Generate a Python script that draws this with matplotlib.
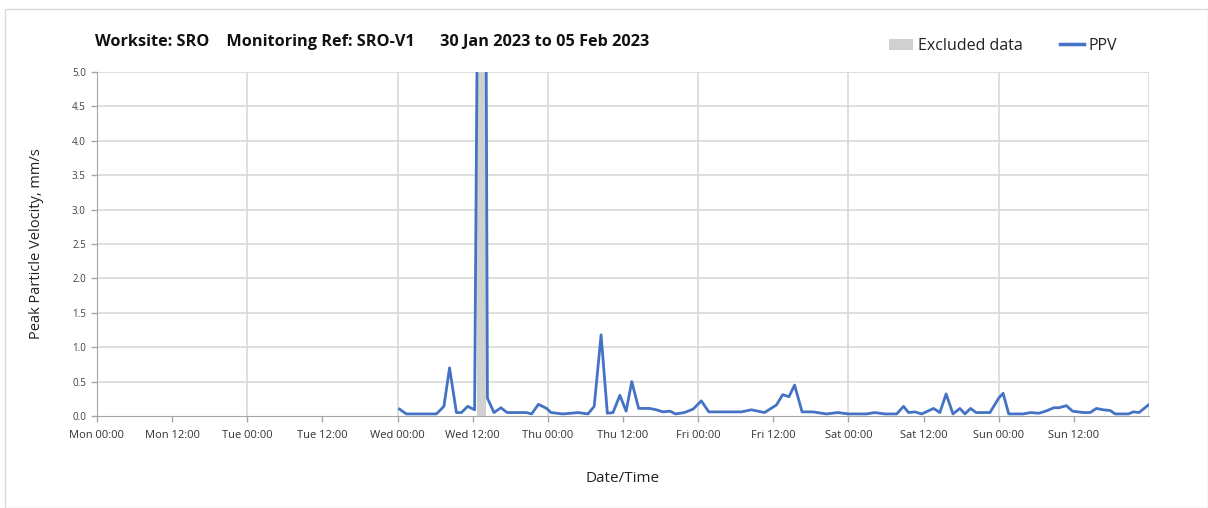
import matplotlib
matplotlib.use("Agg")
import matplotlib.pyplot as plt
from matplotlib.patches import Patch, Rectangle
from matplotlib.lines import Line2D

# hours since Wed 00:00 and PPV values (mm/s)
hours = [0.3, 1.4, 6.2, 7.4, 8.3, 9.4, 10.2, 11.2, 12.3, 12.7, 14.15, 14.35, 15.4, 16.5, 17.5,
         20.6, 21.4, 22.5, 23.8, 24.5, 26.4, 27.7, 28.8, 30.4, 31.4, 32.5, 33.5, 34.4, 35.5,
         36.5, 37.4, 38.5, 40.3, 41.3, 42.4, 43.5, 44.4, 45.8, 47.2, 48.5, 49.7, 54.9, 56.5,
         58.6, 60.5, 61.5, 62.5, 63.4, 64.6, 66.3, 68.5, 70.3, 72.0, 74.9, 76.2, 77.8, 79.7,
         80.8, 81.6, 82.6, 83.7, 85.6, 86.6, 87.6, 88.7, 89.8, 90.6, 91.5, 92.4, 94.6, 96.0,
         96.7, 97.6, 99.9, 101.1, 102.4, 103.5, 104.8, 105.6, 106.8, 107.8, 109.5, 110.6,
         111.6, 112.7, 113.8, 114.6, 116.7, 117.5, 118.4, 119.9]
ppv = [0.10, 0.03, 0.03, 0.14, 0.70, 0.05, 0.05, 0.14, 0.09, 5.3, 5.3, 0.26, 0.05, 0.12, 0.05,
       0.05, 0.03, 0.17, 0.11, 0.05, 0.03, 0.04, 0.05, 0.03, 0.14, 1.18, 0.04, 0.05, 0.30,
       0.07, 0.50, 0.11, 0.11, 0.09, 0.06, 0.07, 0.03, 0.05, 0.10, 0.22, 0.06, 0.06, 0.09,
       0.05, 0.16, 0.31, 0.28, 0.45, 0.06, 0.06, 0.03, 0.05, 0.03, 0.03, 0.05, 0.03, 0.03,
       0.14, 0.05, 0.06, 0.03, 0.11, 0.05, 0.32, 0.03, 0.11, 0.03, 0.11, 0.05, 0.05, 0.26,
       0.33, 0.03, 0.03, 0.05, 0.04, 0.07, 0.12, 0.12, 0.15, 0.07, 0.05, 0.05,
       0.11, 0.09, 0.08, 0.03, 0.03, 0.06, 0.05, 0.16]
excluded_start = 12.75  # hours since Wed 00:00
excluded_end = 14.1
data_offset = 48        # Wed 00:00 in hours since Mon 00:00

tick_labels = ["Mon 00:00", "Mon 12:00", "Tue 00:00", "Tue 12:00", "Wed 00:00", "Wed 12:00",
               "Thu 00:00", "Thu 12:00", "Fri 00:00", "Fri 12:00", "Sat 00:00", "Sat 12:00",
               "Sun 00:00", "Sun 12:00"]
y_ticks = [0.0, 0.5, 1.0, 1.5, 2.0, 2.5, 3.0, 3.5, 4.0, 4.5, 5.0]

title = "Worksite: SRO    Monitoring Ref: SRO-V1      30 Jan 2023 to 05 Feb 2023"

plt.rcParams['font.family'] = ['Open Sans', 'DejaVu Sans']

W, H = 1208, 508
fig = plt.figure(figsize=(W / 100, H / 100), dpi=100)
ax = fig.add_axes([97 / W, 1 - 416 / H, (1149 - 97) / W, (416 - 72) / H])

blue = "#4472C4"
grid_c = "#d9d9d9"

x = [data_offset + h for h in hours]
ax.axvspan(data_offset + excluded_start, data_offset + excluded_end, ymin=0, ymax=1,
           color="#d0d0d0", lw=0, zorder=1)
ax.plot(x, ppv, color=blue, lw=2.0, zorder=3, solid_joinstyle="round")

ax.set_xlim(0, 168)
ax.set_ylim(0, 5.0)
ax.set_yticks(y_ticks)
ax.set_yticklabels([f"{v:.1f}" for v in y_ticks], fontsize=7, color="#404040")
ax.set_xticks([12 * i for i in range(len(tick_labels))])
ax.set_xticklabels(tick_labels, fontsize=8, color="#333333")

for v in y_ticks[1:]:
    ax.axhline(v, color=grid_c, lw=1.2, zorder=0)
for d in range(24, 169, 24):
    ax.axvline(d, color=grid_c, lw=1.2, zorder=0)

for s in ["top", "right"]:
    ax.spines[s].set_visible(False)
ax.spines["left"].set_color("#a6a6a6")
ax.spines["bottom"].set_color("#a6a6a6")
ax.tick_params(axis="both", color="#a6a6a6", length=4, width=1)
ax.tick_params(axis="x", pad=6)
ax.tick_params(axis="y", pad=4)

ax.set_ylabel("Peak Particle Velocity, mm/s", fontsize=10.5, color="#222222", labelpad=20)
ax.set_xlabel("Date/Time", fontsize=11, color="#222222", labelpad=22)

fig.text(95 / W, 1 - 42 / H, title, fontsize=11.7, fontweight="bold", ha="left", va="center",
         color="#111111")

handles = [Patch(facecolor="#d0d0d0", edgecolor="none", label="Excluded data"),
           Line2D([0], [0], color=blue, lw=2.5, label="PPV")]
fig.legend(handles=handles, loc="center left", bbox_to_anchor=(875 / W, 1 - 46 / H),
           ncol=2, frameon=False, fontsize=11.5, handlelength=1.5, handletextpad=0.3,
           columnspacing=2.3, labelcolor="#222222")

fig.add_artist(Rectangle((5 / W, 0), 1 - 5 / W, 1 - 9 / H, transform=fig.transFigure,
                         fill=False, edgecolor="#d9d9d9", lw=1))

fig.savefig("out.png", dpi=100)
